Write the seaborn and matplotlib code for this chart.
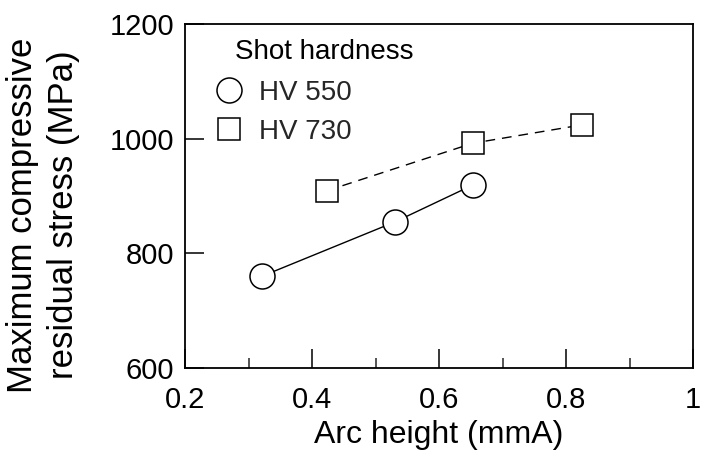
import matplotlib
matplotlib.use("Agg")
import matplotlib.pyplot as plt
import seaborn as sns
import pandas as pd
from matplotlib.ticker import FixedLocator
from matplotlib.lines import Line2D

# Data
arc_550 = [0.321, 0.531, 0.653]
stress_550 = [760, 855, 919]
arc_730 = [0.423, 0.653, 0.825]
stress_730 = [909, 992, 1024]
series_names = ["HV 550", "HV 730"]
x_ticks = [0.2, 0.4, 0.6, 0.8, 1.0]
x_ticklabels = ["0.2", "0.4", "0.6", "0.8", "1"]
x_minor = [0.3, 0.5, 0.7, 0.9]
y_ticks = [600, 800, 1000, 1200]

sns.set_theme(style="ticks")
plt.rcParams['font.family'] = ['Liberation Sans', 'DejaVu Sans']

df550 = pd.DataFrame({"arc": arc_550, "stress": stress_550})
df730 = pd.DataFrame({"arc": arc_730, "stress": stress_730})

fig = plt.figure(figsize=(7.08, 4.57), dpi=100)
ax = fig.add_axes([185 / 708, 1 - 368 / 457, (693 - 185) / 708, (368 - 24) / 457])

sns.lineplot(data=df550, x="arc", y="stress", ax=ax, color="black",
             marker="o", markersize=18, markerfacecolor="white",
             markeredgecolor="black", markeredgewidth=1.1, linewidth=1.0,
             sort=False, legend=False)
sns.lineplot(data=df730, x="arc", y="stress", ax=ax, color="black",
             marker="s", markersize=16, markerfacecolor="white",
             markeredgecolor="black", markeredgewidth=1.1, linewidth=1.0,
             linestyle=(0, (7, 5)), sort=False, legend=False)

ax.set_xlim(0.2, 1.0)
ax.set_ylim(600, 1200)
ax.set_xticks(x_ticks)
ax.set_xticklabels(x_ticklabels)
ax.xaxis.set_minor_locator(FixedLocator(x_minor))
ax.set_yticks(y_ticks)
ax.tick_params(axis="both", which="major", direction="in", length=14,
               width=1.1, labelsize=21, color="black", labelcolor="black",
               top=False, right=False)
ax.tick_params(axis="x", which="major", pad=13)
ax.tick_params(axis="y", which="major", pad=8)
ax.tick_params(axis="x", which="minor", direction="in", length=7, width=1.1,
               top=False)
for s in ax.spines.values():
    s.set_linewidth(1.3)
    s.set_color("black")

ax.set_xlabel("Arc height (mmA)", fontsize=23, color="black")
ax.xaxis.set_label_coords(0.5, -(420 - 368) / 344)
ax.set_ylabel("Maximum compressive\nresidual stress (MPa)", fontsize=25,
              color="black", linespacing=1.3)
ax.yaxis.set_label_coords((43 - 185) / 508, 1 - (215 - 24) / 344)
ax.yaxis.label.set_va("center")

handles = [
    Line2D([], [], marker="o", linestyle="none", markersize=18,
           markerfacecolor="white", markeredgecolor="black", markeredgewidth=1.1),
    Line2D([], [], marker="s", linestyle="none", markersize=16,
           markerfacecolor="white", markeredgecolor="black", markeredgewidth=1.1),
]
ax.text((235 - 185) / 508, 1 - (52 - 24) / 344, "Shot hardness", transform=ax.transAxes,
        fontsize=20, va="center", ha="left", color="black")
leg = ax.legend(handles, series_names, loc="upper left",
                bbox_to_anchor=((215 - 185) / 508, 1 - (80 - 24) / 344),
                frameon=False, fontsize=20, handletextpad=0.6, labelspacing=0.46,
                borderaxespad=0, borderpad=0, handlelength=1.0)

fig.savefig("out.png", dpi=100)
